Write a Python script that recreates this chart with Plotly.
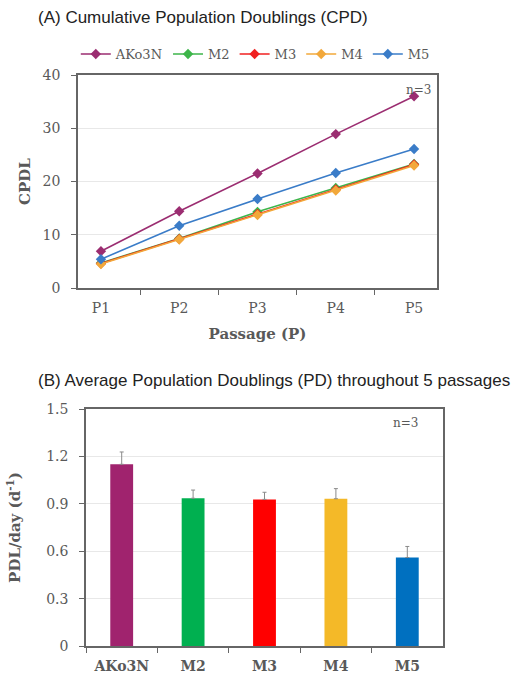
import plotly.graph_objects as go

passages = ["P1", "P2", "P3", "P4", "P5"]
series_names = ["AKo3N", "M2", "M3", "M4", "M5"]
cpdl_ako3n = [6.9, 14.4, 21.5, 28.9, 36.0]
cpdl_m2 = [4.7, 9.3, 14.3, 18.8, 23.3]
cpdl_m3 = [4.6, 9.2, 13.9, 18.5, 23.2]
cpdl_m4 = [4.5, 9.1, 13.7, 18.3, 23.0]
cpdl_m5 = [5.4, 11.7, 16.7, 21.6, 26.1]
pd_avg = [1.15, 0.935, 0.928, 0.932, 0.56]
pd_err = [0.078, 0.052, 0.045, 0.064, 0.07]
pd_ticks = [0, 0.3, 0.6, 0.9, 1.2, 1.5]
pd_tick_labels = ["0", "0.3", "0.6", "0.9", "1.2", "1.5"]

line_colors = ["#9B2D71", "#3DB54A", "#F02020", "#F2A83A", "#3A7CC8"]
bar_colors = ["#A0236E", "#00B050", "#FF0000", "#F4B928", "#0070C0"]

W, H = 521, 675
def px_x(a, b):
    return [a / W, b / W]
def px_y(top, bot):
    return [1 - bot / H, 1 - top / H]

SERIF = "DejaVu Serif, Georgia, serif"
SANS = "Liberation Sans, Arial, sans-serif"
GRAY = "#595959"
AX = "#666666"

fig = go.Figure()
all_cpdl = [cpdl_ako3n, cpdl_m2, cpdl_m3, cpdl_m4, cpdl_m5]
for name, vals, col in zip(series_names, all_cpdl, line_colors):
    fig.add_trace(go.Scatter(
        x=passages, y=vals, name=name, mode="lines+markers",
        line=dict(color=col, width=1.6),
        marker=dict(symbol="diamond", size=8, color=col),
        xaxis="x", yaxis="y"))

fig.add_trace(go.Bar(
    x=series_names, y=pd_avg, marker=dict(color=bar_colors, line=dict(width=0)),
    width=0.32, showlegend=False,
    error_y=dict(type="data", array=pd_err, arrayminus=[0] * 5, symmetric=False,
                 color="#8a8a8a", thickness=1, width=2),
    xaxis="x2", yaxis="y2"))

axis_common = dict(showline=True, mirror=True, linecolor=AX, linewidth=1.5,
                   ticks="outside", tickcolor=AX, ticklen=5, automargin=False,
                   tickfont=dict(family=SERIF, size=14, color=GRAY))

fig.update_layout(
    width=W, height=H, margin=dict(l=0, r=0, t=0, b=0, pad=0), autosize=False,
    paper_bgcolor="white", plot_bgcolor="white",
    xaxis=dict(domain=px_x(78, 437), anchor="y", type="category",
               tickson="boundaries", showgrid=False, ticklabelstandoff=6,
               title=dict(text="<b>Passage (P)</b>", standoff=14,
                          font=dict(family=SERIF, size=15, color=GRAY)),
               **axis_common),
    yaxis=dict(domain=px_y(75, 288), anchor="x", range=[0, 40], dtick=10,
               showgrid=True, gridcolor="#e8e8e8", zeroline=False,
               ticklabelstandoff=8,
               title=dict(text="<b>CPDL</b>", standoff=8,
                          font=dict(family=SERIF, size=15, color=GRAY)),
               **axis_common),
    xaxis2=dict(domain=px_x(86, 443), anchor="y2", type="category",
                tickson="boundaries", showgrid=False, ticklabelstandoff=6,
                **{**axis_common, "tickfont": dict(family=SERIF, size=14, color=GRAY, weight="bold")}),
    yaxis2=dict(domain=px_y(409, 646), anchor="x2", range=[0, 1.5],
                tickvals=pd_ticks, ticktext=pd_tick_labels,
                showgrid=True, gridcolor="#e8e8e8", zeroline=False,
                ticklabelstandoff=8,
                title=dict(text="<b>PDL/day (d<sup>-1</sup>)</b>", standoff=22,
                           font=dict(family=SERIF, size=15, color=GRAY)),
                **axis_common),
    legend=dict(orientation="h", x=0.49, xanchor="center", y=1 - 54 / H, yanchor="middle",
                font=dict(family=SERIF, size=13, color=GRAY),
                itemwidth=30, tracegroupgap=0, bgcolor="rgba(0,0,0,0)"),
    annotations=[
        dict(text="(A) Cumulative Population Doublings (CPD)", x=36 / W, y=1 - 18 / H,
             xref="paper", yref="paper", xanchor="left", yanchor="middle", showarrow=False,
             font=dict(family=SANS, size=17, color="#222222")),
        dict(text="(B) Average Population Doublings (PD) throughout 5 passages", x=36 / W,
             y=1 - 380 / H, xref="paper", yref="paper", xanchor="left", yanchor="middle",
             showarrow=False, font=dict(family=SANS, size=17, color="#222222")),
        dict(text="n=3", x=404 / W, y=1 - 90 / H, xref="paper", yref="paper",
             xanchor="left", yanchor="middle", showarrow=False,
             font=dict(family=SERIF, size=12, color=GRAY)),
        dict(text="n=3", x=405 / W, y=1 - 423 / H, xref="paper", yref="paper",
             xanchor="center", yanchor="middle", showarrow=False,
             font=dict(family=SERIF, size=12, color=GRAY)),
    ],
)

fig.write_html("out.html", config={"displayModeBar": False},
               post_script="document.body.style.margin='0';document.body.style.overflow='hidden';")
